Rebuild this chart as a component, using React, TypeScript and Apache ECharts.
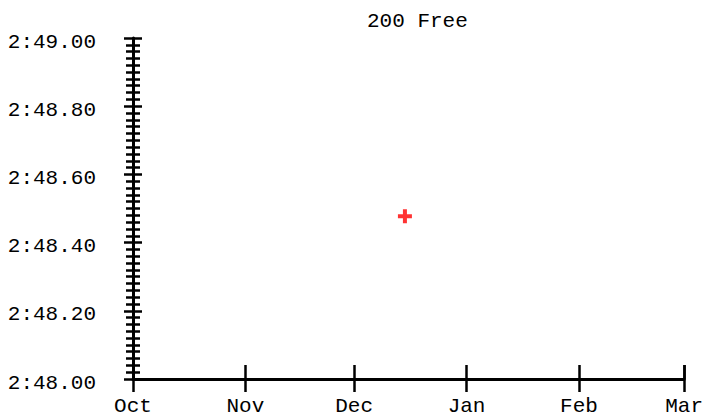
import React, { useEffect, useRef } from "react";
import * as echarts from "echarts";

const title = "200 Free";
const monthNames = ["Jan", "Feb", "Mar", "Apr", "May", "Jun", "Jul", "Aug", "Sep", "Oct", "Nov", "Dec"];
const xMin = "2023-10-01";
const xMax = "2024-03-01";
const yMinSec = 168.0;
const yMaxSec = 169.0;
const yStep = 0.2;
const swimDates = ["2023-12-15"];
const swimTimes = [168.477];

const FONT = "'Liberation Mono', 'DejaVu Sans Mono', monospace";
const FS = 21;

function fmtTime(v: number) {
  const m = Math.floor(v / 60 + 1e-9);
  const s = v - m * 60;
  return m + ":" + (Math.round(s * 100) / 100).toFixed(2).padStart(5, "0");
}

export default function App() {
  const ref = useRef<HTMLDivElement>(null);
  useEffect(() => {
    document.body.style.margin = "0";
    const chart = echarts.init(ref.current!, null, { renderer: "svg" });
    const lineStyle = { color: "#000", width: 3 };
    const tickStyle = { color: "#000", width: 2.5 };
    const xBase = {
      type: "time" as const,
      position: "bottom" as const,
      min: xMin,
      max: xMax,
      splitNumber: 5,
      minInterval: 28 * 86400000,
      splitLine: { show: false },
    };
    const yBase = {
      type: "value" as const,
      position: "left" as const,
      min: yMinSec,
      max: yMaxSec,
      interval: yStep,
      splitLine: { show: false },
      minorSplitLine: { show: false },
    };
    chart.setOption({
      animation: false,
      title: {
        text: title,
        left: 362,
        top: 6,
        textStyle: { fontFamily: FONT, fontSize: FS, fontWeight: "normal", color: "#000" },
      },
      grid: { left: 133, right: 20, top: 38, bottom: 39, containLabel: false },
      xAxis: [
        {
          ...xBase,
          axisLine: { show: true, onZero: false, lineStyle },
          axisTick: { show: true, inside: false, length: 13, lineStyle: tickStyle },
          axisLabel: {
            show: true,
            margin: 17,
            fontFamily: FONT,
            fontSize: FS,
            color: "#000",
            showMinLabel: true,
            showMaxLabel: true,
            hideOverlap: false,
            formatter: (v: number) => monthNames[new Date(v).getMonth()],
          },
        },
        {
          ...xBase,
          axisLine: { show: false, onZero: false },
          axisTick: { show: true, inside: true, length: 14, lineStyle: tickStyle },
          axisLabel: { show: false },
        },
      ],
      yAxis: [
        {
          ...yBase,
          axisLine: { show: true, onZero: false, lineStyle },
          axisTick: { show: true, inside: false, length: 9, lineStyle: tickStyle },
          minorTick: { show: true, splitNumber: 10, length: 7, lineStyle: tickStyle },
          axisLabel: {
            show: true,
            margin: 37,
            color: "#000",
            formatter: (v: number) => "{t|" + fmtTime(v) + "}",
            rich: {
              t: { fontFamily: FONT, fontSize: FS, color: "#000", padding: [8, 0, 0, 0] },
            },
          },
        },
        {
          ...yBase,
          axisLine: { show: false, onZero: false },
          axisTick: { show: true, inside: true, length: 9, lineStyle: tickStyle },
          minorTick: { show: true, splitNumber: 10, length: 7, lineStyle: tickStyle },
          axisLabel: { show: false },
        },
      ],
      series: [
        {
          type: "scatter",
          xAxisIndex: 0,
          yAxisIndex: 0,
          symbol: "path://M5,0h4v5h5v4h-5v5h-4v-5h-5v-4h5z",
          symbolSize: 14,
          itemStyle: { color: "#ff0000" },
          data: swimDates.map((d, i) => [d, swimTimes[i]]),
        },
      ],
    });
    return () => chart.dispose();
  }, []);
  return <div ref={ref} style={{ width: 706, height: 418 }} />;
}
